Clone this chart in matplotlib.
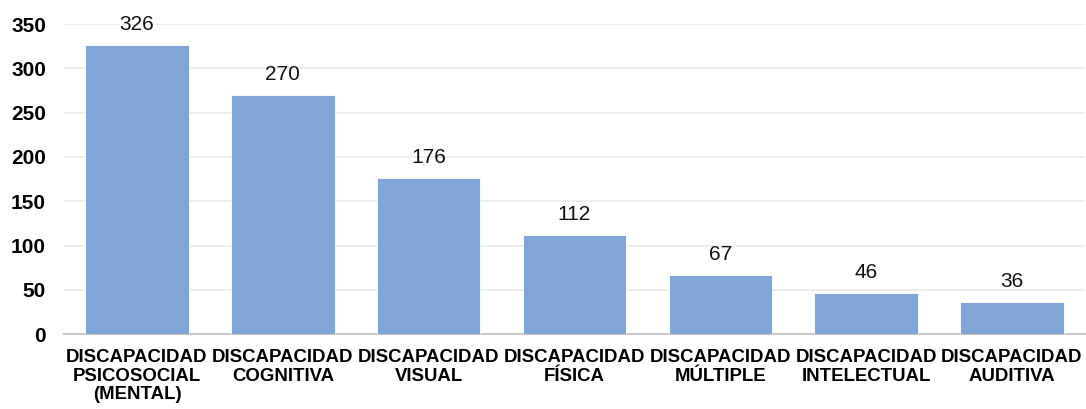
import matplotlib
matplotlib.use('Agg')
import matplotlib.pyplot as plt

categorias = ['DISCAPACIDAD\nPSICOSOCIAL\n(MENTAL)', 'DISCAPACIDAD\nCOGNITIVA', 'DISCAPACIDAD\nVISUAL',
              'DISCAPACIDAD\nFÍSICA', 'DISCAPACIDAD\nMÚLTIPLE', 'DISCAPACIDAD\nINTELECTUAL',
              'DISCAPACIDAD\nAUDITIVA']
valores = [326, 270, 176, 112, 67, 46, 36]
yticks = [0, 50, 100, 150, 200, 250, 300, 350]

plt.rcParams['font.family'] = ['Liberation Sans', 'DejaVu Sans']

fig = plt.figure(figsize=(10.86, 4.09), dpi=100)
ax = fig.add_axes([0.059, 0.183, 0.940, 0.758])

x = range(len(valores))
bars = ax.bar(x, valores, width=0.71, color='#7FA6D6', edgecolor='white', linewidth=0.6, zorder=3)

for b, v in zip(bars, valores):
    ax.annotate(str(v), (b.get_x() + b.get_width() / 2, v), xytext=(0, 8),
                textcoords='offset points', ha='center', va='bottom', fontsize=15, color='#111111')

ax.set_xlim(-0.5, len(valores) - 0.5)
ax.set_ylim(0, 350)
ax.set_yticks(yticks)
ax.set_yticklabels([str(t) for t in yticks], fontsize=15, fontweight='bold')
ax.set_xticks(list(x))
ax.set_xticklabels(categorias, fontsize=13.4, fontweight='bold', linespacing=1.1)
ax.tick_params(axis='both', length=0)
ax.tick_params(axis='x', pad=11)
ax.tick_params(axis='y', pad=13)

ax.grid(axis='y', color='#EBEBEB', linewidth=1.2, zorder=0)
for s in ['top', 'right', 'left']:
    ax.spines[s].set_visible(False)
ax.spines['bottom'].set_color('#C8C8C8')
ax.spines['bottom'].set_linewidth(1.5)

fig.savefig('out.png', dpi=100)
